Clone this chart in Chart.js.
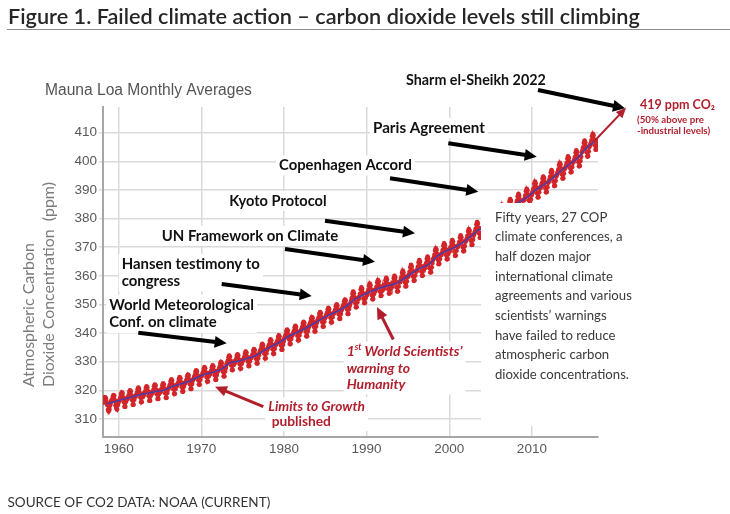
<!DOCTYPE html>
<html><head><meta charset="utf-8">
<script src="https://cdn.jsdelivr.net/npm/chart.js@4/dist/chart.umd.min.js"></script>
<style>html,body{margin:0;padding:0;background:#fff;} canvas{display:block;}</style>
</head><body>
<canvas id="c" width="730" height="514"></canvas>
<script>
// ---------- DATA (Mauna Loa monthly CO2, ppm) ----------
const xTickValues = [1960, 1970, 1980, 1990, 2000, 2010];
const yTickValues = [310, 320, 330, 340, 350, 360, 370, 380, 390, 400, 410];

// Monthly averages, Mar 1958 – Dec 1959
const co2_1958_59 = [315.7, 317.5, 317.5, 317.1, 315.9, 314.9, 313.2, 312.7, 313.3, 314.7,
  315.6, 316.5, 316.7, 317.7, 318.3, 318.1, 316.5, 314.8, 313.8, 313.3, 314.8, 315.6];
const co2_1960s = [
  316.2, 316.8, 317.5, 318.7, 319.3, 318.9, 317.5, 315.9, 314.3, 314.3, 316.0, 317.2,
  316.9, 317.5, 318.2, 319.4, 320.0, 319.6, 318.2, 316.6, 315.0, 315.0, 316.7, 317.9,
  317.8, 318.4, 319.1, 320.3, 320.9, 320.5, 319.1, 317.5, 315.9, 315.9, 317.6, 318.8,
  318.3, 318.9, 319.6, 320.8, 321.4, 321.0, 319.6, 318.0, 316.4, 316.4, 318.1, 319.3,
  318.9, 319.5, 320.2, 321.4, 322.0, 321.6, 320.2, 318.6, 317.0, 317.0, 318.7, 319.9,
  319.3, 319.9, 320.6, 321.8, 322.4, 322.0, 320.6, 319.0, 317.4, 317.4, 319.1, 320.3,
  320.7, 321.3, 322.0, 323.2, 323.8, 323.4, 322.0, 320.4, 318.8, 318.8, 320.5, 321.7,
  321.5, 322.1, 322.8, 324.0, 324.6, 324.2, 322.8, 321.2, 319.6, 319.6, 321.3, 322.5,
  322.4, 323.0, 323.7, 324.9, 325.5, 325.1, 323.7, 322.1, 320.5, 320.5, 322.2, 323.4,
  323.9, 324.5, 325.2, 326.4, 327.0, 326.6, 325.2, 323.6, 322.0, 322.0, 323.7, 324.9];
const co2_1970s = [
  325.0, 325.6, 326.3, 327.5, 328.1, 327.7, 326.3, 324.7, 323.1, 323.1, 324.8, 326.0,
  325.6, 326.2, 326.9, 328.1, 328.7, 328.3, 326.9, 325.3, 323.7, 323.7, 325.4, 326.6,
  326.8, 327.4, 328.1, 329.3, 329.9, 329.5, 328.1, 326.5, 324.9, 324.9, 326.6, 327.8,
  329.0, 329.6, 330.3, 331.5, 332.1, 331.7, 330.3, 328.7, 327.1, 327.1, 328.8, 330.0,
  329.5, 330.1, 330.8, 332.0, 332.6, 332.2, 330.8, 329.2, 327.6, 327.6, 329.3, 330.5,
  330.4, 331.0, 331.7, 332.9, 333.5, 333.1, 331.7, 330.1, 328.5, 328.5, 330.2, 331.4,
  331.3, 331.9, 332.6, 333.8, 334.4, 334.0, 332.6, 331.0, 329.4, 329.4, 331.1, 332.3,
  333.1, 333.7, 334.4, 335.6, 336.2, 335.8, 334.4, 332.8, 331.2, 331.2, 332.9, 334.1,
  334.7, 335.3, 336.0, 337.2, 337.8, 337.4, 336.0, 334.4, 332.8, 332.8, 334.5, 335.7,
  336.1, 336.7, 337.4, 338.6, 339.2, 338.8, 337.4, 335.8, 334.2, 334.2, 335.9, 337.1];
const co2_1980s = [
  338.1, 338.7, 339.4, 340.6, 341.2, 340.8, 339.4, 337.8, 336.2, 336.2, 337.9, 339.1,
  339.4, 340.0, 340.7, 341.9, 342.5, 342.1, 340.7, 339.1, 337.5, 337.5, 339.2, 340.4,
  340.8, 341.4, 342.1, 343.3, 343.9, 343.5, 342.1, 340.5, 338.9, 338.9, 340.6, 341.8,
  342.5, 343.1, 343.8, 345.0, 345.6, 345.2, 343.8, 342.2, 340.6, 340.6, 342.3, 343.5,
  344.2, 344.8, 345.5, 346.7, 347.3, 346.9, 345.5, 343.9, 342.3, 342.3, 344.0, 345.2,
  345.7, 346.3, 347.0, 348.2, 348.8, 348.4, 347.0, 345.4, 343.8, 343.8, 345.5, 346.7,
  346.9, 347.5, 348.2, 349.4, 350.0, 349.6, 348.2, 346.6, 345.0, 345.0, 346.7, 347.9,
  348.6, 349.2, 349.9, 351.1, 351.7, 351.3, 349.9, 348.3, 346.7, 346.7, 348.4, 349.6,
  350.5, 351.2, 352.2, 353.7, 354.5, 353.9, 352.5, 350.5, 349.0, 349.1, 350.8, 352.3,
  352.0, 352.7, 353.7, 355.2, 356.0, 355.4, 354.0, 352.0, 350.5, 350.6, 352.3, 353.8];
const co2_1990s = [
  353.3, 354.0, 355.0, 356.5, 357.3, 356.7, 355.3, 353.3, 351.8, 351.9, 353.6, 355.1,
  354.5, 355.2, 356.2, 357.7, 358.5, 357.9, 356.5, 354.5, 353.0, 353.1, 354.8, 356.3,
  355.3, 356.0, 357.0, 358.5, 359.3, 358.7, 357.3, 355.3, 353.8, 353.9, 355.6, 357.1,
  356.0, 356.7, 357.7, 359.2, 360.0, 359.4, 358.0, 356.0, 354.5, 354.6, 356.3, 357.8,
  357.8, 358.5, 359.5, 361.0, 361.8, 361.2, 359.8, 357.8, 356.3, 356.4, 358.1, 359.6,
  359.8, 360.5, 361.5, 363.0, 363.8, 363.2, 361.8, 359.8, 358.3, 358.4, 360.1, 361.6,
  361.5, 362.2, 363.2, 364.7, 365.5, 364.9, 363.5, 361.5, 360.0, 360.1, 361.8, 363.3,
  362.7, 363.4, 364.4, 365.9, 366.7, 366.1, 364.7, 362.7, 361.2, 361.3, 363.0, 364.5,
  365.6, 366.3, 367.3, 368.8, 369.6, 369.0, 367.6, 365.6, 364.1, 364.2, 365.9, 367.4,
  367.3, 368.0, 369.0, 370.5, 371.3, 370.7, 369.3, 367.3, 365.8, 365.9, 367.6, 369.1];
const co2_2000s = [
  368.5, 369.2, 370.2, 371.7, 372.5, 371.9, 370.5, 368.5, 367.0, 367.1, 368.8, 370.3,
  370.1, 370.8, 371.8, 373.3, 374.1, 373.5, 372.1, 370.1, 368.6, 368.7, 370.4, 371.9,
  372.3, 373.0, 374.0, 375.5, 376.3, 375.7, 374.3, 372.3, 370.8, 370.9, 372.6, 374.1,
  374.8, 375.5, 376.5, 378.0, 378.8, 378.2, 376.8, 374.8, 373.3, 373.4, 375.1, 376.6,
  376.5, 377.2, 378.2, 379.7, 380.5, 379.9, 378.5, 376.5, 375.0, 375.1, 376.8, 378.3,
  378.8, 379.5, 380.5, 382.0, 382.8, 382.2, 380.8, 378.8, 377.3, 377.4, 379.1, 380.6,
  380.9, 381.6, 382.6, 384.1, 384.9, 384.3, 382.9, 380.9, 379.4, 379.5, 381.2, 382.7,
  382.8, 383.5, 384.5, 386.0, 386.8, 386.2, 384.8, 382.8, 381.3, 381.4, 383.1, 384.6,
  384.6, 385.3, 386.3, 387.8, 388.6, 388.0, 386.6, 384.6, 383.1, 383.2, 384.9, 386.4,
  386.4, 387.1, 388.1, 389.6, 390.4, 389.8, 388.4, 386.4, 384.9, 385.0, 386.7, 388.2];
const co2_2010s = [
  388.9, 389.6, 390.6, 392.1, 392.9, 392.3, 390.9, 388.9, 387.4, 387.5, 389.2, 390.7,
  390.7, 391.4, 392.4, 393.9, 394.7, 394.1, 392.7, 390.7, 389.2, 389.3, 391.0, 392.5,
  392.9, 393.6, 394.6, 396.1, 396.9, 396.3, 394.9, 392.9, 391.4, 391.5, 393.2, 394.7,
  395.5, 396.2, 397.2, 398.7, 399.5, 398.9, 397.5, 395.5, 394.0, 394.1, 395.8, 397.3,
  397.7, 398.4, 399.4, 400.9, 401.7, 401.1, 399.7, 397.7, 396.2, 396.3, 398.0, 399.5,
  399.8, 400.5, 401.5, 403.0, 403.8, 403.2, 401.8, 399.8, 398.3, 398.4, 400.1, 401.6,
  403.2, 403.9, 404.9, 406.4, 407.2, 406.6, 405.2, 403.2, 401.7, 401.8, 403.5, 405.0,
  405.6, 406.3, 407.3, 408.8, 409.6, 409.0, 407.6, 405.6, 404.1, 404.2, 405.9, 407.4];

// Annual (trend) values
const annualYears = [1958,1959,1960,1961,1962,1963,1964,1965,1966,1967,1968,1969,1970,1971,1972,1973,1974,1975,1976,1977,1978,1979,
  1980,1981,1982,1983,1984,1985,1986,1987,1988,1989,1990,1991,1992,1993,1994,1995,1996,1997,1998,1999,
  2000,2001,2002,2003,2004,2005,2006,2007,2008,2009,2010,2011,2012,2013,2014,2015,2016,2017];
const annualMean = [315.2,316.0,316.9,317.6,318.5,319.0,319.6,320.0,321.4,322.2,323.1,324.6,325.7,326.3,327.5,329.7,330.2,331.1,332.0,333.8,335.4,336.8,
  338.8,340.1,341.5,343.2,344.9,346.4,347.6,349.3,351.7,353.2,354.5,355.7,356.5,357.2,359.0,361.0,362.7,363.9,366.8,368.5,
  369.7,371.3,373.5,376.0,377.7,380.0,382.1,384.0,385.8,387.6,390.1,391.9,394.1,396.7,398.9,401.0,404.4,406.8];

// first month of each block (decimal year)
const blockStarts = [1958 + 2/12, 1960, 1970, 1980, 1990, 2000, 2010];
const blocks = [co2_1958_59, co2_1960s, co2_1970s, co2_1980s, co2_1990s, co2_2000s, co2_2010s];

const monthlyPoints = [];
blocks.forEach((vals, b) => vals.forEach((v, i) => monthlyPoints.push({x: blockStarts[b] + i/12 + 1/24, y: v})));
const trendPoints = annualYears.map((yr, i) => ({x: yr + 0.5, y: annualMean[i]}));

// ---------- ANNOTATION STYLE / LAYOUT ----------
const RED = '#b11f2c';
const LATO = 'Lato, "Open Sans", sans-serif';

const textBlocks = [
  {lines:['Sharm el-Sheikh 2022'], x:406, y:80, lh:16, fit:[0,140], weight:700, color:'#111'},
  {lines:['419 ppm CO₂'], x:640, y:105, lh:16, fit:[0,75], weight:700, color:RED},
  {lines:['(50% above pre','-industrial levels)'], x:637, y:119.5, lh:11, fit:[0,67], weight:700, color:RED},
  {lines:['Paris Agreement'], x:373, y:128, lh:16, fit:[0,112], weight:700, color:'#111', bg:true},
  {lines:['Copenhagen Accord'], x:279, y:165.5, lh:16, fit:[0,133], weight:700, color:'#111', bg:true},
  {lines:['Kyoto Protocol'], x:229.3, y:201, lh:16, fit:[0,97.4], weight:700, color:'#111', bg:true},
  {lines:['UN Framework on Climate'], x:161.7, y:235.7, lh:16, fit:[0,176.6], weight:700, color:'#111', bg:true},
  {lines:['Hansen testimony to','congress'], x:121.7, y:264.3, lh:16.7, fit:[0,138.3], weight:700, color:'#111', bg:true},
  {lines:['World Meteorological','Conf. on climate'], x:109.3, y:305, lh:17.3, fit:[0,144.7], weight:700, color:'#111', bg:true},
  {lines:[[{t:'1'},{t:'st',sup:true},{t:' World Scientists’',style:'italic'}],'warning to','Humanity'],
    x:346.7, y:351.7, lh:16.3, fit:[1,63.3], weight:700, style:'italic', color:RED, bg:true},
  {lines:['Limits to Growth',[{t:' published',style:'normal'}]], x:268.3, y:406.7, lh:15, fit:[0,96.7], weight:700, style:'italic', color:RED, bg:true},
  {lines:['Fifty years, 27 COP','climate conferences, a','half dozen major','international climate','agreements and various',
    'scientists’ warnings','have failed to reduce','atmospheric carbon','dioxide concentrations.'],
    x:495, y:217.3, lh:19.7, fit:[4,137], weight:400, color:'#3a3a3a'},
  {lines:['Mauna Loa Monthly Averages'], x:45, y:91, lh:16, fit:[0,207], weight:400, color:'#555', family:'"Liberation Sans", Arial, sans-serif'},
  {lines:['SOURCE OF CO2 DATA: NOAA (CURRENT)'], x:7.5, y:502.5, lh:14, fit:[0,263], weight:400, color:'#333'},
  {lines:['Figure 1. Failed climate action – carbon dioxide levels still climbing'], x:8, y:17, lh:22, fit:[0,632], weight:600, color:'#262626'}
];

const blackArrows = [
  [538,90,625,108.3], [448.3,143.3,536.7,156.7], [390,178.3,478.3,191.7], [325,220.7,415,233.3],
  [285,249,375,261.7], [221.7,284,311.7,296], [138.3,332.7,226.7,343.3]
];
const redArrows = [
  [263.3,406.7,215,386.7,3,12,11], [393.3,339.5,377,307,3,12,11], [594,141.5,626,107.8,2,10,9]
];

function segsOf(line){ return typeof line === 'string' ? [{t:line}] : line; }
function fontStr(B, s, size){
  const st = s.style || B.style || 'normal';
  const wt = s.weight || B.weight || 400;
  const sz = s.sup ? size*0.62 : size;
  return `${st} ${wt} ${sz}px ${B.family || LATO}`;
}
function lineW(ctx, B, line, size){
  let w = 0;
  for (const s of segsOf(line)) { ctx.font = fontStr(B, s, size); w += ctx.measureText(s.t).width; }
  return w;
}
function sizeOf(ctx, B){
  const [li, target] = B.fit;
  return 100 * target / lineW(ctx, B, B.lines[li], 100);
}
function drawBlock(ctx, B){
  const size = sizeOf(ctx, B);
  ctx.fillStyle = B.color;
  ctx.textBaseline = 'middle';
  ctx.textAlign = 'left';
  B.lines.forEach((line, i) => {
    let x = B.x; const y = B.y + i*B.lh;
    for (const s of segsOf(line)) {
      ctx.font = fontStr(B, s, size);
      ctx.fillText(s.t, x, s.sup ? y - size*0.3 : y);
      x += ctx.measureText(s.t).width;
    }
  });
}
function blockBg(ctx, B){
  const size = sizeOf(ctx, B);
  let w = 0;
  B.lines.forEach(l => { w = Math.max(w, lineW(ctx, B, l, size)); });
  ctx.fillStyle = '#fff';
  ctx.fillRect(B.x - 3, B.y - B.lh/2 - 2, w + 6, B.lines.length*B.lh + 4);
}
function arrow(ctx, x1, y1, x2, y2, color, lw, hl, hw){
  const a = Math.atan2(y2-y1, x2-x1);
  const bx = x2 - hl*Math.cos(a), by = y2 - hl*Math.sin(a);
  ctx.strokeStyle = color; ctx.lineWidth = lw; ctx.lineCap = 'butt';
  ctx.beginPath(); ctx.moveTo(x1, y1); ctx.lineTo(bx + Math.cos(a), by + Math.sin(a)); ctx.stroke();
  ctx.fillStyle = color; ctx.beginPath(); ctx.moveTo(x2, y2);
  ctx.lineTo(bx + hw/2*Math.sin(a), by - hw/2*Math.cos(a));
  ctx.lineTo(bx - hw/2*Math.sin(a), by + hw/2*Math.cos(a));
  ctx.closePath(); ctx.fill();
}

const annotPlugin = {
  id: 'annot',
  afterDatasetsDraw(chart){
    const ctx = chart.ctx;
    ctx.save();
    // white panel holding the commentary text
    ctx.fillStyle = '#fff';
    ctx.fillRect(481, 203, 249, 223);
    textBlocks.forEach(B => { if (B.bg) blockBg(ctx, B); });
    blackArrows.forEach(a => arrow(ctx, a[0], a[1], a[2], a[3], '#000', 4, 12, 12));
    redArrows.forEach(a => arrow(ctx, a[0], a[1], a[2], a[3], RED, a[4], a[5], a[6]));
    textBlocks.forEach(B => drawBlock(ctx, B));
    // title rule
    ctx.strokeStyle = '#8c8c8c'; ctx.lineWidth = 1;
    ctx.beginPath(); ctx.moveTo(7, 29.5); ctx.lineTo(730, 29.5); ctx.stroke();
    // y axis title (two lines, rotated)
    const yt = {lines:['Atmospheric Carbon','Dioxide Concentration  (ppm)'], fit:[1,205], weight:400};
    const ys = sizeOf(ctx, {...yt, x:0, y:0});
    ctx.fillStyle = '#7b7b7b'; ctx.textBaseline = 'middle'; ctx.textAlign = 'left';
    ctx.font = `normal 400 ${ys}px ${LATO}`;
    [[28.5, yt.lines[0]], [48.5, yt.lines[1]]].forEach(([x, t]) => {
      ctx.save(); ctx.translate(x, 387); ctx.rotate(-Math.PI/2); ctx.fillText(t, 0, 0); ctx.restore();
    });
    ctx.restore();
  }
};

const tickFont = {family: '"Liberation Sans", Arial, sans-serif', size: 13.5};
new Chart(document.getElementById('c'), {
  type: 'line',
  data: {
    datasets: [
      {label: 'Trend', data: trendPoints, borderColor: '#4b3aa8', borderWidth: 1.6, pointRadius: 0, order: 0, tension: 0},
      {label: 'Monthly', data: monthlyPoints, borderColor: '#d22529', backgroundColor: '#d22529', borderWidth: 1.8,
        pointRadius: 2.4, pointBorderWidth: 0, order: 1}
    ]
  },
  options: {
    responsive: false, animation: false, devicePixelRatio: 1,
    layout: {padding: {left: 0, top: 107, right: 132, bottom: 47}},
    plugins: {legend: {display: false}, tooltip: {enabled: false}},
    scales: {
      x: {
        type: 'linear', min: 1958.1, max: 2018,
        afterBuildTicks: s => { s.ticks = xTickValues.map(v => ({value: v})); },
        afterFit: s => { s.height = 30; },
        grid: {color: '#dadada', lineWidth: 1.5, drawTicks: false},
        border: {color: '#a6a6a6', width: 2},
        ticks: {color: '#595959', font: tickFont, padding: 4, maxRotation: 0, callback: v => String(v)}
      },
      y: {
        type: 'linear', min: 303.7, max: 419,
        afterBuildTicks: s => { s.ticks = yTickValues.map(v => ({value: v})); },
        afterFit: s => { s.width = 103; },
        grid: {color: '#dadada', lineWidth: 1.5, tickLength: 4},
        border: {color: '#a6a6a6', width: 2},
        ticks: {color: '#595959', font: tickFont, padding: 2, callback: v => String(v)}
      }
    }
  },
  plugins: [annotPlugin]
});
</script>
</body></html>
